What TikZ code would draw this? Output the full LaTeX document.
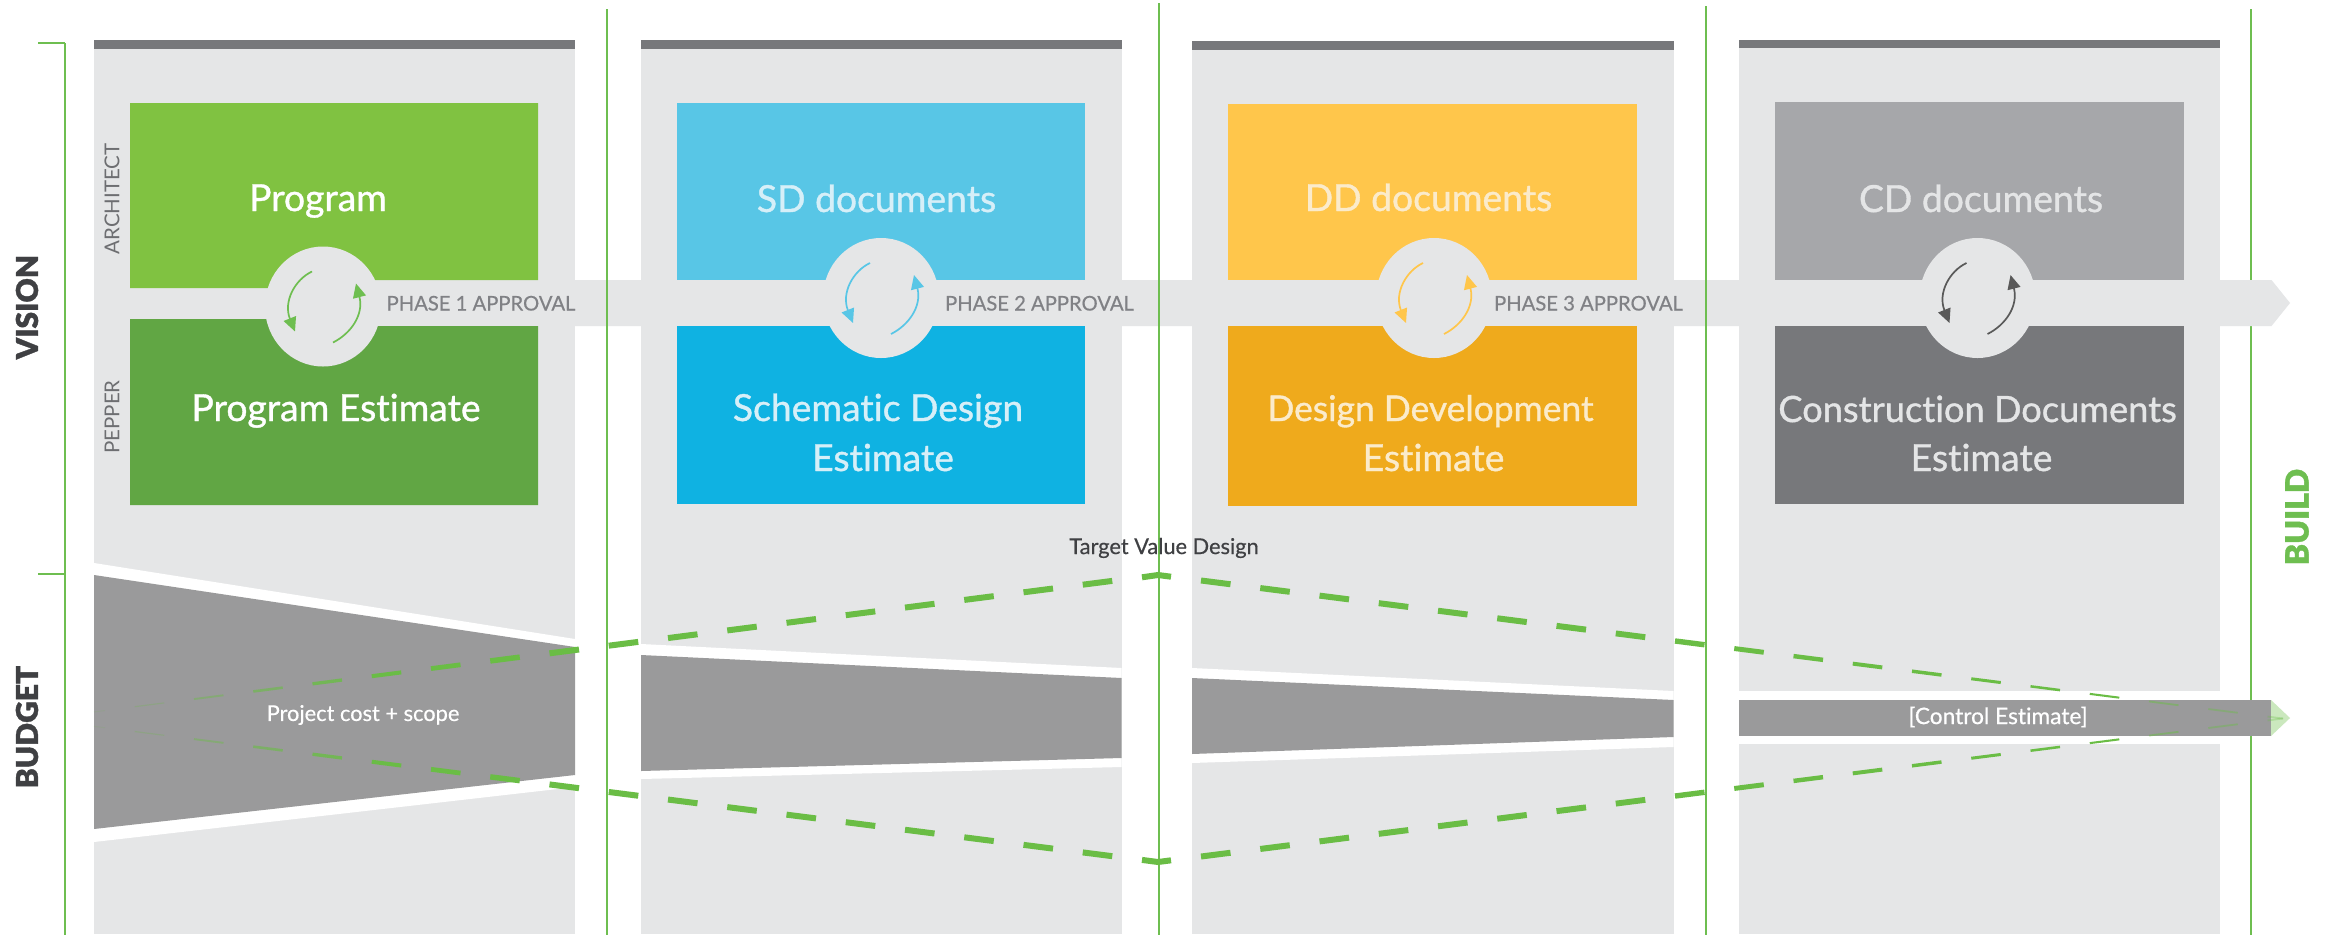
\documentclass[tikz,border=0pt]{standalone}
\usepackage{fontspec}
\setmainfont[Ligatures=NoCommon]{Lato}
\newfontfamily\medfont[FakeBold=1.0,Ligatures=NoCommon]{Lato}
\newfontfamily\lightbold[FakeBold=0.5,Ligatures=NoCommon]{Lato}
\newfontfamily\heavyfont[FakeBold=1.2]{Lato Black}
\usetikzlibrary{arrows.meta}
\definecolor{panelgray}{HTML}{E5E6E7}
\definecolor{barkgray}{HTML}{77787B}
\definecolor{budgetgray}{HTML}{9A9A9B}
\definecolor{linegreen}{HTML}{6EBE50}
\definecolor{dashgreen}{HTML}{6ABD45}
\definecolor{gtop}{HTML}{80C241}
\definecolor{glow}{HTML}{61A644}
\definecolor{btop}{HTML}{58C6E6}
\definecolor{blow}{HTML}{0FB2E2}
\definecolor{ytop}{HTML}{FFC64B}
\definecolor{ylow}{HTML}{EFAA1C}
\definecolor{ktop}{HTML}{A6A7AA}
\definecolor{klow}{HTML}{77787B}
\definecolor{phasetext}{HTML}{808185}
\definecolor{sidetext}{HTML}{6D6E71}
\definecolor{darktext}{HTML}{3F4043}
\definecolor{btxt}{HTML}{D6EFF8}
\definecolor{ytxt}{HTML}{FBEBCB}
\definecolor{ktxt}{HTML}{E4E5E6}
\tikzset{
  x=1pt,y=-1pt,
  guide/.style={draw=linegreen,line width=2pt},
  bigtext/.style={inner sep=0pt,anchor=base,font=\medfont\fontsize{37.3}{37}\selectfont},
  tighttext/.style={inner sep=0pt,anchor=base,font=\medfont\fontsize{35.4}{37}\selectfont},
  phase/.style={inner sep=0pt,anchor=base,text=phasetext,font=\lightbold\fontsize{20.2}{20}\selectfont},
  sidelabel/.style={inner sep=0pt,rotate=90,text=sidetext,font=\fontsize{20.5}{20}\selectfont},
  axislabel/.style={inner sep=0pt,rotate=90,font=\heavyfont\fontsize{30}{32}\selectfont},
  inlabel/.style={inner sep=0pt,font=\lightbold\fontsize{21.8}{22}\selectfont},
  cyc/.style={line width=1.7pt,-{Triangle[length=14pt,width=13pt]}}
}
\newcommand{\cycle}[3]{%
  \fill[panelgray] (#1,#2) ellipse [x radius=58,y radius=60];
  \begin{scope}[shift={(#1,#2)}]
    \draw[cyc,draw=#3] (-11,-35) .. controls (-28,-27) and (-40,-5) .. (-28,25);
    \draw[cyc,draw=#3] (10,36) .. controls (28,27) and (41,8) .. (33,-23);
  \end{scope}}
\begin{document}
\begin{tikzpicture}
\useasboundingbox (0,0) rectangle (2331,935);
\fill[white] (0,0) rectangle (2331,935);
% guides behind
\draw[guide] (2250.5,9) -- (2250.5,935);
% panels
\fill[panelgray] (94,49) rectangle (575,934);
\fill[panelgray] (641,49) rectangle (1121.5,934);
\fill[panelgray] (1192,50) rectangle (1673.5,934);
\fill[panelgray] (1739,48) rectangle (2220,691);
\fill[panelgray] (1739,744) rectangle (2220,934);
\fill[barkgray] (94,40) rectangle (575,49);
\fill[barkgray] (641,40) rectangle (1121.5,49);
\fill[barkgray] (1192,41) rectangle (1673.5,50);
\fill[barkgray] (1739,40) rectangle (2220,48);
% approval band
\fill[panelgray] (94,280) -- (2271.5,280) -- (2290,303) -- (2271.5,326) -- (94,326) -- cycle;
% boxes
\fill[gtop] (130,103) -- (538,103) -- (538,280) -- (323,280) -- (323,288) -- (130,288) -- cycle;
\fill[glow] (130,319) -- (323,319) -- (323,326) -- (538,326) -- (538,505) -- (130,505) -- cycle;
\fill[btop] (677,103) rectangle (1085,280);
\fill[blow] (677,326) rectangle (1085,504);
\fill[ytop] (1228,104) rectangle (1637,280);
\fill[ylow] (1228,326) rectangle (1637,506);
\fill[ktop] (1775,102) rectangle (2183.5,280);
\fill[klow] (1775,326) rectangle (2183.5,504);
% cycles
\cycle{323}{306.5}{linegreen}
\cycle{881}{298}{btop}
\cycle{1434}{298}{ytop}
\cycle{1977.5}{298}{black!65}
% budget shapes
\fill[white] (94,563) -- (575,639) -- (575,787) -- (94,842) -- cycle;
\fill[budgetgray] (94,575) -- (575,647) -- (575,775) -- (94,829) -- cycle;
\fill[white] (641,644) -- (1121.5,668) -- (1121.5,767) -- (641,779) -- cycle;
\fill[budgetgray] (641,655) -- (1121.5,678) -- (1121.5,758) -- (641,771) -- cycle;
\fill[white] (1192,668) -- (1673.5,691) -- (1673.5,747) -- (1192,763) -- cycle;
\fill[budgetgray] (1192,678) -- (1673.5,700) -- (1673.5,737) -- (1192,754) -- cycle;
\fill[budgetgray] (1739,700) rectangle (2271,736);
\fill[dashgreen!35] (2271,700) -- (2290,718) -- (2271,736) -- cycle;
% guides on top
\draw[guide] (65,43) -- (65,935);
\draw[guide] (38,43) -- (65,43);
\draw[guide] (38,574) -- (65,574);
\draw[guide] (606.5,9) -- (606.5,935);
\draw[guide] (1158.5,3) -- (1158.5,935);
\draw[guide] (1706,6) -- (1706,935);
% target value dashes: apex
\draw[dashgreen,line width=6pt,line join=miter] (1142,577.3) -- (1158,575) -- (1171,576.7);
\draw[dashgreen,line width=6pt,line join=miter] (1142,859.9) -- (1158,862) -- (1171,860.3);
% left dashes
\foreach \k in {1,...,18}{
  \pgfmathsetmacro{\xs}{max(94,1142-59.25*\k)}
  \pgfmathsetmacro{\xe}{1142-59.25*\k+29.5}
  \pgfmathsetmacro{\w}{min(6,1.2+(\xs-136)*4.8/400)}
  \pgfmathsetmacro{\op}{max(0.12,min(1,0.25+(\xs-136)*0.75/240))}
  \pgfmathsetmacro{\wf}{max(1,\w)}
  \pgfmathsetmacro{\ya}{575+(1158-\xs)*0.1287}
  \pgfmathsetmacro{\yb}{575+(1158-\xe)*0.1287}
  \pgfmathsetmacro{\yc}{862-(1158-\xs)*0.1275}
  \pgfmathsetmacro{\yd}{862-(1158-\xe)*0.1275}
  \draw[dashgreen,line width=\wf pt,opacity=\op] (\xs,\ya) -- (\xe,\yb);
  \draw[dashgreen,line width=\wf pt,opacity=\op] (\xs,\yc) -- (\xe,\yd);
}
% right dashes
\foreach \k in {0,...,18}{
  \pgfmathsetmacro{\xs}{1201+59.25*\k}
  \pgfmathsetmacro{\xe}{min(2283,\xs+29.5)}
  \pgfmathsetmacro{\w}{\xs<1600 ? 6 : max(1.8,6-(\xs-1600)*4.2/520)}
  \pgfmathsetmacro{\op}{\xs<2100 ? 1 : 0.5-(\xs-2148)*0.2/120}
  \pgfmathsetmacro{\ya}{575+(\xs-1158)*0.1276}
  \pgfmathsetmacro{\yb}{575+(\xe-1158)*0.1276}
  \pgfmathsetmacro{\yc}{862-(\xs-1158)*0.1276}
  \pgfmathsetmacro{\yd}{862-(\xe-1158)*0.1276}
  \draw[dashgreen,line width=\w pt,opacity=\op] (\xs,\ya) -- (\xe,\yb);
  \draw[dashgreen,line width=\w pt,opacity=\op] (\xs,\yc) -- (\xe,\yd);
}
% big labels
\node[bigtext,text=white] (t1) at (318,211) {Program};
\node[bigtext,text=white] (t2) at (336,421) {Program Estimate};
\node[bigtext,text=btxt] (t3) at (876.5,212) {SD documents};
\node[bigtext,text=btxt] (t4) at (878,421) {Schematic Design};
\node[bigtext,text=btxt] (t5) at (883,471) {Estimate};
\node[bigtext,text=ytxt] (t6) at (1428.5,211) {DD documents};
\node[tighttext,text=ytxt] (t7) at (1430.5,421) {Design Development};
\node[bigtext,text=ytxt] (t8) at (1433.5,471) {Estimate};
\node[bigtext,text=ktxt] (t9) at (1981,212) {CD documents};
\node[inner sep=0pt,anchor=base,font=\medfont\fontsize{36.2}{37}\selectfont,text=ktxt] (t10) at (1977.5,422) {Construction Documents};
\node[bigtext,text=ktxt] (t11) at (1981.5,471) {Estimate};
% phase labels
\node[phase] (p1) at (481,310.5) {PHASE 1 APPROVAL};
\node[phase] (p2) at (1039.5,310.5) {PHASE 2 APPROVAL};
\node[phase] (p3) at (1588.5,310.5) {PHASE 3 APPROVAL};
% side labels
\node[sidelabel] (arch) at (112,199) {ARCHITECT};
\node[sidelabel] (pep) at (112,417) {PEPPER};
\node[axislabel,text=darktext] (vis) at (27,307) {VISION};
\node[axislabel,text=darktext] (bud) at (27,727) {BUDGET};
\node[axislabel,text=linegreen,font=\heavyfont\fontsize{32}{32}\selectfont] (bld) at (2297,517) {BUILD};
% inner labels
\node[inlabel,text=darktext] (tvd) at (1164,548) {Target Value Design};
\node[inlabel,text=white] (pcs) at (363,715) {Project cost + scope};
\node[inlabel,text=white,font=\lightbold\fontsize{22.7}{22}\selectfont] (ctl) at (1998,717) {[Control Estimate]};
\end{tikzpicture}
\end{document}
